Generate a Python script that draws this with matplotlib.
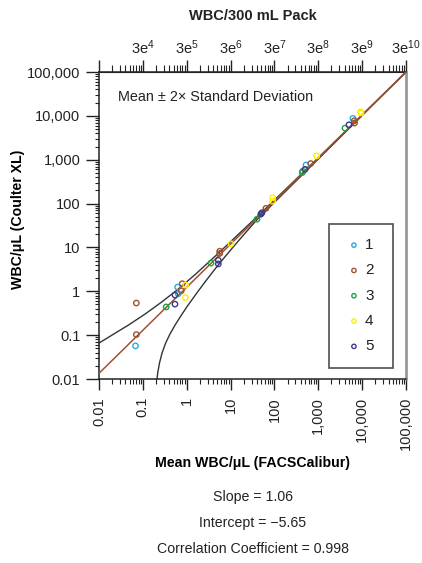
import numpy as np
import matplotlib.pyplot as plt
from matplotlib.ticker import FixedLocator, NullFormatter

plt.rcParams['font.family'] = ['Liberation Sans', 'DejaVu Sans']
plt.rcParams['mathtext.fontset'] = 'custom'
plt.rcParams['mathtext.rm'] = 'Liberation Sans'
plt.rcParams['mathtext.default'] = 'regular'
plt.rcParams['text.color'] = '#222222'
plt.rcParams['xtick.color'] = '#222222'
plt.rcParams['ytick.color'] = '#222222'

# donor series: mean WBC/uL (FACSCalibur) vs WBC/uL (Coulter XL)
series_names = ['1', '2', '3', '4', '5']
series_colors = ['#27aae1', '#a0522d', '#1fa24a', '#ffee00', '#3b3a8a']
x1 = [0.068, 0.62, 0.64, 525, 6160]
y1 = [0.057, 1.25, 0.88, 760, 8770]
x2 = [0.071, 0.071, 0.79, 0.75, 5.65, 5.65, 64, 670, 6600, 6700]
y2 = [0.54, 0.103, 1.49, 1.03, 8.2, 7.3, 78, 818, 7730, 6840]
x3 = [0.34, 3.57, 40, 440, 430, 4060]
y3 = [0.44, 4.4, 44, 546, 510, 5250]
x4 = [0.95, 0.93, 10.2, 91, 91, 918, 9270, 9400]
y4 = [1.39, 0.72, 12.1, 136, 114, 1222, 12400, 11700]
x5 = [0.54, 0.54, 5.25, 5.25, 49, 52, 498, 5010]
y5 = [0.51, 0.82, 5.1, 4.2, 57.5, 62, 603, 6270]
xs = [x1, x2, x3, x4, x5]
ys = [y1, y2, y3, y4, y5]

# regression line and mean +/- 2 SD curves
fit_x = [0.01, 100000]
fit_y = [0.0135, 100000]
upper_x = [0.01, 0.023, 0.047, 0.112, 0.268, 0.64, 1.55, 4.8, 50, 1000, 100000]
upper_y = [0.066, 0.110, 0.170, 0.302, 0.569, 1.122, 2.40, 6.76, 61.7, 1109, 100000]
lower_x = [0.21, 0.219, 0.24, 0.275, 0.331, 0.417, 0.55, 0.759, 1.0, 1.585,
           2.512, 3.981, 6.31, 10, 19.95, 39.8, 100, 1000, 100000]
lower_y = [0.01, 0.0141, 0.0234, 0.0398, 0.0661, 0.107, 0.174, 0.288, 0.437, 0.832,
           1.55, 2.82, 5.01, 8.71, 19.5, 42.7, 107, 1035, 100000]

decades = [0.01, 0.1, 1, 10, 100, 1000, 10000, 100000]
decade_labels = ['0.01', '0.1', '1', '10', '100', '1,000', '10,000', '100,000']
pack_ticks = [3e3, 3e4, 3e5, 3e6, 3e7, 3e8, 3e9, 3e10]
pack_labels = ['', '3e$^{4}$', '3e$^{5}$', '3e$^{6}$', '3e$^{7}$',
               '3e$^{8}$', '3e$^{9}$', '3e$^{10}$']
stats_lines = ['Slope = 1.06', 'Intercept = \u22125.65',
               'Correlation Coefficient = 0.998']

fig = plt.figure(figsize=(4.22, 5.63), dpi=100)
ax = fig.add_axes([0.2346, 0.3268, 0.7275, 0.5453])
ax.set_xscale('log')
ax.set_yscale('log')
ax.set_xlim(0.01, 100000)
ax.set_ylim(0.01, 100000)

ax.plot(upper_x, upper_y, color='#333333', lw=1.0, zorder=2)
ax.plot(lower_x, lower_y, color='#333333', lw=1.0, zorder=2)
ax.plot(fit_x, fit_y, color='#a0522d', lw=1.1, zorder=3)

for name, color, xv, yv in zip(series_names, series_colors, xs, ys):
    ax.scatter(xv, yv, s=15, facecolors='none', edgecolors=color,
               linewidths=1.0, label=name, zorder=4)

ax.text(0.062, 0.92, 'Mean \u00b1 2\u00d7 Standard Deviation',
        transform=ax.transAxes, fontsize=10.4, va='center', ha='left')

ax.set_xticks(decades, labels=decade_labels, rotation=90)
ax.set_yticks(decades, labels=decade_labels)
ax.xaxis.set_minor_formatter(NullFormatter())
ax.yaxis.set_minor_formatter(NullFormatter())
ax.tick_params(axis='x', which='major', length=8, width=1.0, pad=5, labelsize=10.5)
ax.tick_params(axis='x', which='minor', length=3.6, width=0.8)
ax.tick_params(axis='y', which='major', length=9.5, width=1.0, pad=4, labelsize=10.5)
ax.tick_params(axis='y', which='minor', length=3, width=0.8)

for side in ['left', 'bottom', 'top']:
    ax.spines[side].set_color('#222222')
    ax.spines[side].set_linewidth(1.1)
ax.spines['right'].set_color('#999999')
ax.spines['right'].set_linewidth(2.0)

sec = ax.secondary_xaxis('top', functions=(lambda v: v * 3e5, lambda v: v / 3e5))
sec.set_xticks(pack_ticks, labels=pack_labels)
minor_pack = [3e5 * k * d for d in decades[:-1] for k in range(2, 10)]
sec.xaxis.set_minor_locator(FixedLocator(minor_pack))
sec.xaxis.set_minor_formatter(NullFormatter())
sec.tick_params(axis='x', which='major', length=9, width=1.0, pad=2, labelsize=10.5)
sec.tick_params(axis='x', which='minor', length=5, width=0.8)
sec.spines['top'].set_color('#222222')

ax.set_xlabel('Mean WBC/\u03bcL (FACSCalibur)', fontsize=10.2, fontweight='bold')
ax.xaxis.set_label_coords(0.5, -0.2745)
ax.xaxis.label.set_va('center')
ax.set_ylabel('WBC/\u03bcL (Coulter XL)', fontsize=10.2, fontweight='bold')
ax.yaxis.set_label_coords(-0.264, 0.52)
ax.yaxis.label.set_va('center')
fig.text(0.5995, 0.9716, 'WBC/300 mL Pack', fontsize=10.5, fontweight='bold',
         ha='center', va='center')

leg = ax.legend(loc='upper left', bbox_to_anchor=(0.749, 0.046, 0.2085, 0.4605),
                mode='expand', fontsize=11,
                frameon=True, fancybox=False, edgecolor='#222222',
                handlelength=1.35, handletextpad=0.05, borderpad=0.96,
                labelspacing=0.74, markerscale=0.8, borderaxespad=0)
leg.get_frame().set_linewidth(1.2)

for i, line in enumerate(stats_lines):
    fig.text(0.5995, 0.1172 - i * 0.0462, line, fontsize=10.2,
             ha='center', va='center')

fig.savefig('out.png', dpi=100)
